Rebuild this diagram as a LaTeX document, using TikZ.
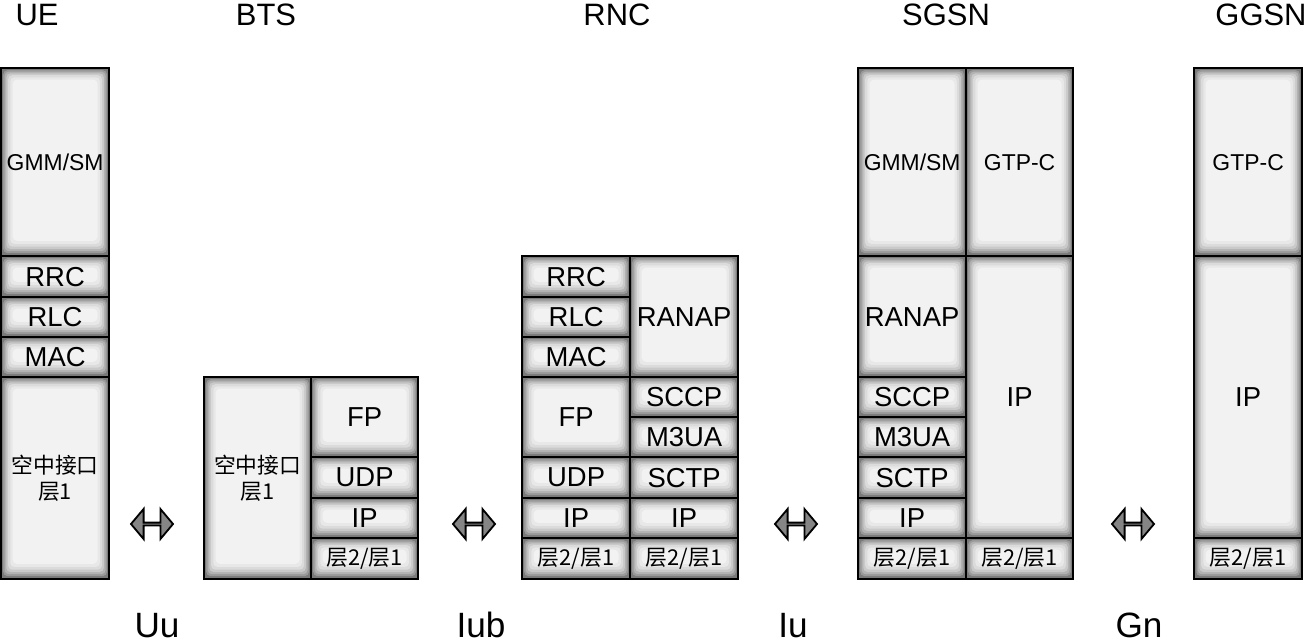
\documentclass[tikz,border=0pt]{standalone}
\usepackage{fontspec}
\setmainfont{Liberation Sans}
\newfontfamily\cjk{Noto Sans CJK SC}
\usetikzlibrary{shapes.arrows, backgrounds}

\tikzset{
  layer/.style 2 args={draw, line width=1.6pt, inner sep=0pt, align=center,
    minimum width=#1*0.025cm, minimum height=#2*0.025cm, anchor=north west,
    font=\fontsize{19.5}{22}\selectfont},
  small/.style={font=\fontsize{16.3}{19}\selectfont},
  zh/.style={font=\cjk\fontsize{15.5}{19}\selectfont},
  title/.style={font=\fontsize{22}{26}\selectfont},
  iface/.style={font=\fontsize{25}{28}\selectfont, inner sep=0pt, anchor=base},
  dblarrow/.style={double arrow, draw=black, line width=1.3pt, fill=black!48, inner sep=0pt,
    minimum height=1.05cm, minimum width=0.75cm, double arrow head extend=0.22cm,
    double arrow tip angle=100},
}

% one inset ring of the glow: #1 node, #2 inset, #3 grey level
\newcommand\glowring[3]{%
  \fill[black!#3, rounded corners=3pt]
    ([xshift=#2pt,yshift=-#2pt]#1.north west) rectangle ([xshift=-#2pt,yshift=1.3*#2pt]#1.south east);}
\newcommand\shadebox[1]{%
  \fill[black!52] (#1.north west) rectangle (#1.south east);
  \glowring{#1}{2.3}{40}
  \glowring{#1}{3.3}{30}
  \glowring{#1}{4.5}{21}
  \glowring{#1}{5.8}{14}
  \glowring{#1}{7.3}{9}
  \glowring{#1}{9}{5}}

\begin{document}
\begin{tikzpicture}[x=0.025cm, y=-0.025cm]
  \useasboundingbox (0,0) rectangle (1307,643);

  % titles
  \node[title] (ue)   at (37,15)   {UE};
  \node[title] (bts)  at (266,15)  {BTS};
  \node[title] (rnc)  at (617,15)  {RNC};
  \node[title] (sgsn) at (946,15)  {SGSN};
  \node[title] (ggsn) at (1261,15) {GGSN};

  % UE
  \node[layer={108}{188}, small] (ue-gmm) at (0,67)  {GMM/SM};
  \node[layer={108}{41}]  (ue-rrc) at (0,255) {RRC};
  \node[layer={108}{40}]  (ue-rlc) at (0,296) {RLC};
  \node[layer={108}{40}]  (ue-mac) at (0,336) {MAC};
  \node[layer={108}{202}, zh] (ue-phy) at (0,376) {空中接口\\层1};

  % BTS
  \node[layer={107}{202}, zh] (bts-phy) at (203,376) {空中接口\\层1};
  \node[layer={107}{80}]  (bts-fp)  at (310,376) {FP};
  \node[layer={107}{41}]  (bts-udp) at (310,456) {UDP};
  \node[layer={107}{40}]  (bts-ip)  at (310,497) {IP};
  \node[layer={107}{41}, zh] (bts-l2) at (310,537) {层2/层1};

  % RNC
  \node[layer={108}{41}]  (rnc-rrc) at (521,255) {RRC};
  \node[layer={108}{40}]  (rnc-rlc) at (521,296) {RLC};
  \node[layer={108}{40}]  (rnc-mac) at (521,336) {MAC};
  \node[layer={108}{80}]  (rnc-fp)  at (521,376) {FP};
  \node[layer={108}{41}]  (rnc-udp) at (521,456) {UDP};
  \node[layer={108}{40}]  (rnc-ipa) at (521,497) {IP};
  \node[layer={108}{41}, zh] (rnc-l2a) at (521,537) {层2/层1};
  \node[layer={108}{121}] (rnc-ranap) at (629,255) {RANAP};
  \node[layer={108}{40}]  (rnc-sccp)  at (629,376) {SCCP};
  \node[layer={108}{40}]  (rnc-m3ua)  at (629,416) {M3UA};
  \node[layer={108}{41}]  (rnc-sctp)  at (629,456) {SCTP};
  \node[layer={108}{40}]  (rnc-ipb)   at (629,497) {IP};
  \node[layer={108}{41}, zh] (rnc-l2b) at (629,537) {层2/层1};

  % SGSN
  \node[layer={108}{188}, small] (sgsn-gmm) at (857,67) {GMM/SM};
  \node[layer={108}{121}] (sgsn-ranap) at (857,255) {RANAP};
  \node[layer={108}{40}]  (sgsn-sccp)  at (857,376) {SCCP};
  \node[layer={108}{40}]  (sgsn-m3ua)  at (857,416) {M3UA};
  \node[layer={108}{41}]  (sgsn-sctp)  at (857,456) {SCTP};
  \node[layer={108}{40}]  (sgsn-ipa)   at (857,497) {IP};
  \node[layer={108}{41}, zh] (sgsn-l2a) at (857,537) {层2/层1};
  \node[layer={107}{188}, small] (sgsn-gtp) at (965,67) {GTP-C};
  \node[layer={107}{282}] (sgsn-ipb) at (965,255) {IP};
  \node[layer={107}{41}, zh] (sgsn-l2b) at (965,537) {层2/层1};

  % GGSN
  \node[layer={108}{188}, small] (ggsn-gtp) at (1193,67) {GTP-C};
  \node[layer={108}{282}] (ggsn-ip) at (1193,255) {IP};
  \node[layer={108}{41}, zh] (ggsn-l2) at (1193,537) {层2/层1};

  % shaded fill behind every layer box
  \begin{scope}[on background layer]
    \foreach \n in {ue-gmm,ue-rrc,ue-rlc,ue-mac,ue-phy,
                    bts-phy,bts-fp,bts-udp,bts-ip,bts-l2,
                    rnc-rrc,rnc-rlc,rnc-mac,rnc-fp,rnc-udp,rnc-ipa,rnc-l2a,
                    rnc-ranap,rnc-sccp,rnc-m3ua,rnc-sctp,rnc-ipb,rnc-l2b,
                    sgsn-gmm,sgsn-ranap,sgsn-sccp,sgsn-m3ua,sgsn-sctp,sgsn-ipa,sgsn-l2a,
                    sgsn-gtp,sgsn-ipb,sgsn-l2b,ggsn-gtp,ggsn-ip,ggsn-l2}
      {\shadebox{\n}}
  \end{scope}

  % interfaces
  \node[dblarrow] (uu-arrow)  at (152,524)  {};
  \node[dblarrow] (iub-arrow) at (474,524)  {};
  \node[dblarrow] (iu-arrow)  at (796,524)  {};
  \node[dblarrow] (gn-arrow)  at (1133,524) {};
  \node[iface] (uu)  at (157,637)  {Uu};
  \node[iface] (iub) at (481,637)  {Iub};
  \node[iface] (iu)  at (793,637)  {Iu};
  \node[iface] (gn)  at (1139,637) {Gn};
\end{tikzpicture}
\end{document}
